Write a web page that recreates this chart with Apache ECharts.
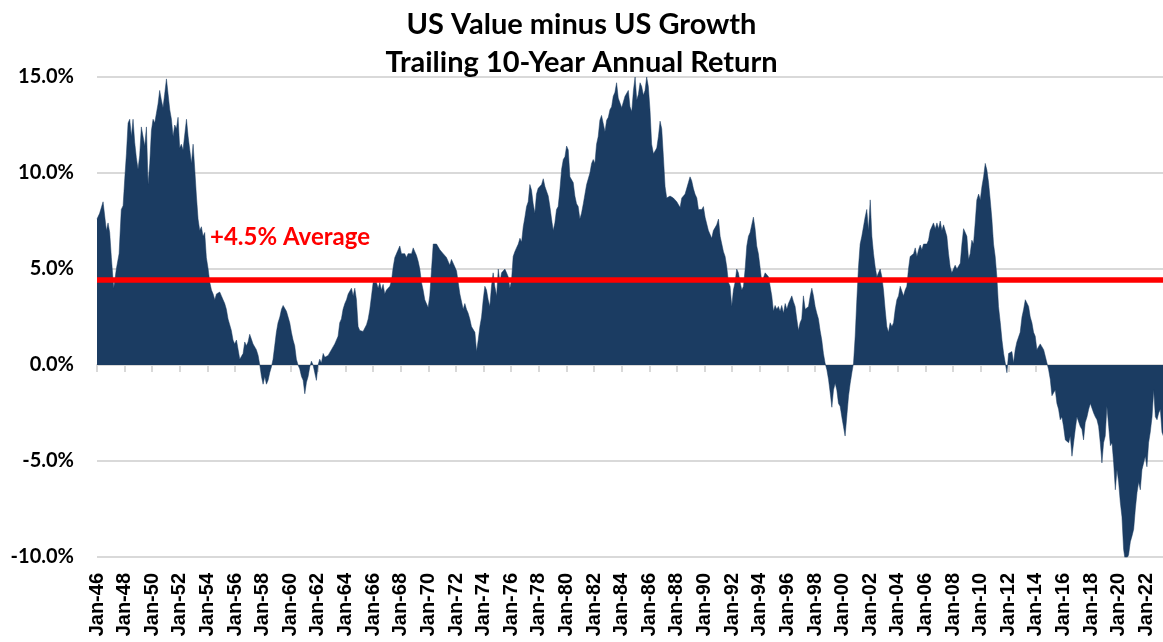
<!DOCTYPE html>
<html>
<head>
<meta charset="utf-8">
<script src="https://cdn.jsdelivr.net/npm/echarts@6/dist/echarts.min.js"></script>
<style>
html,body{margin:0;padding:0;background:#fff;}
#chart{width:1163px;height:642px;}
</style>
</head>
<body>
<div id="chart"></div>
<script>
// Sample dates (decimal years)
const sampleYears = [
1946.00,1946.19,1946.44,1946.68,1946.80,1946.92,1947.04,1947.21,1947.40,1947.60,1947.76,1947.89,
1948.01,1948.13,1948.25,1948.37,1948.49,1948.61,1948.73,1948.85,1948.97,1949.09,1949.21,1949.33,
1949.46,1949.58,1949.70,1949.82,1949.94,1950.06,1950.18,1950.30,1950.42,1950.54,1950.66,1950.78,
1950.90,1951.03,1951.15,1951.27,1951.39,1951.51,1951.63,1951.75,1951.87,1951.99,1952.11,1952.23,
1952.48,1952.60,1952.72,1952.84,1952.96,1953.08,1953.20,1953.32,1953.44,1953.56,1953.68,1953.80,
1953.92,1954.05,1954.17,1954.29,1954.41,1954.53,1954.65,1954.89,1955.01,1955.13,1955.25,
1955.37,1955.49,1955.61,1955.73,1955.85,1955.97,1956.10,1956.22,1956.34,1956.46,1956.58,1956.70,
1956.82,1956.94,1957.06,1957.18,1957.30,1957.42,1957.54,1957.67,1957.79,1957.91,1958.03,1958.15,
1958.27,1958.39,1958.51,1958.63,1958.75,1958.87,1958.99,1959.11,1959.24,1959.36,1959.48,1959.60,
1959.72,1959.84,1959.96,1960.08,1960.20,1960.32,1960.44,1960.56,1960.68,1960.81,1960.93,1961.05,
1961.17,1961.29,1961.41,1961.53,1961.65,1961.77,1961.89,1962.01,1962.13,1962.25,1962.38,1962.50,
1962.62,1962.74,1962.98,1963.22,1963.34,1963.46,1963.58,1963.70,1963.82,1963.95,1964.07,1964.19,
1964.31,1964.43,1964.55,
1964.67,1964.79,1964.91,1965.03,1965.15,1965.27,1965.39,1965.52,1965.64,1965.76,1965.88,1966.00,
1966.12,1966.24,1966.36,1966.48,1966.60,1966.72,1966.84,1966.96,1967.09,1967.21,1967.33,1967.45,
1967.57,1967.69,1967.81,1967.93,1968.05,1968.17,1968.29,1968.41,1968.53,1968.66,1968.78,1968.90,
1969.02,1969.14,1969.26,1969.38,1969.50,1969.62,1969.74,1969.86,1969.98,1970.10,1970.23,1970.35,
1970.47,1970.59,1970.71,1970.83,1970.95,1971.07,1971.19,1971.31,1971.43,1971.55,1971.67,1971.80,
1971.92,1972.04,1972.16,1972.28,1972.40,1972.52,1972.64,1972.76,1972.88,1973.00,1973.12,1973.24,
1973.37,1973.49,1973.61,1973.73,1973.85,1973.97,
1974.09,1974.21,1974.33,1974.45,1974.57,1974.69,1974.81,1974.94,1975.06,1975.18,1975.30,1975.42,
1975.54,1975.66,1975.78,1975.90,1976.02,1976.14,1976.26,1976.38,1976.51,1976.63,1976.75,1976.87,
1976.99,1977.11,1977.23,1977.35,1977.47,1977.59,1977.71,1977.83,1977.95,1978.08,1978.20,1978.32,
1978.44,1978.56,1978.68,1978.80,1978.92,1979.04,1979.16,1979.28,1979.40,1979.52,1979.65,1979.77,
1979.89,1980.01,1980.13,1980.25,1980.37,1980.49,1980.61,1980.73,1980.85,1980.97,1981.09,1981.22,
1981.34,1981.46,1981.58,1981.70,1981.82,1981.94,1982.06,1982.18,1982.30,1982.42,1982.54,1982.66,
1982.79,1982.91,1983.03,1983.15,1983.27,1983.39,1983.51,1983.63,1983.75,
1983.88,1984.00,1984.12,1984.24,1984.36,1984.48,1984.60,1984.73,1984.85,1984.97,1985.09,1985.21,
1985.33,1985.45,1985.57,1985.69,1985.81,1985.93,1986.05,1986.17,1986.30,1986.42,1986.54,1986.66,
1986.78,1986.90,1987.02,1987.14,1987.26,1987.38,1987.50,1987.62,1987.74,1987.87,1987.99,1988.11,
1988.23,1988.35,1988.47,1988.59,1988.71,1988.83,1988.95,1989.07,1989.19,1989.31,1989.44,1989.56,
1989.68,1989.80,1989.92,1990.04,1990.16,1990.28,1990.40,1990.52,1990.64,1990.76,1990.88,1991.01,
1991.13,1991.25,1991.37,1991.49,1991.61,1991.73,1991.85,1991.97,1992.09,1992.21,1992.33,1992.45,
1992.58,1992.70,1992.82,1992.94,1993.06,1993.18,
1993.30,1993.42,1993.54,1993.66,1993.78,1993.90,1994.02,1994.15,1994.27,1994.39,1994.51,1994.63,
1994.75,1994.87,1994.99,1995.11,1995.23,1995.35,1995.47,1995.59,1995.72,1995.84,1995.96,1996.08,
1996.20,1996.32,1996.44,1996.56,1996.68,1996.80,1996.92,1997.04,1997.16,1997.29,1997.41,1997.53,
1997.65,1997.77,1997.89,1998.01,1998.13,1998.25,1998.37,1998.49,1998.61,1998.73,1998.86,1998.98,
1999.10,1999.22,1999.34,1999.46,1999.58,1999.70,1999.82,1999.94,2000.06,2000.18,2000.30,2000.43,
2000.55,2000.67,2000.79,2000.91,2001.03,2001.15,2001.27,2001.39,2001.51,2001.63,2001.75,2001.87,
2002.00,2002.12,2002.24,2002.36,2002.48,2002.60,
2002.72,2002.84,2002.96,2003.08,2003.20,2003.32,2003.44,2003.57,2003.69,2003.81,2003.93,2004.05,
2004.17,2004.29,2004.41,2004.53,2004.65,2004.77,2004.89,2005.01,2005.14,2005.26,2005.38,2005.50,
2005.62,2005.74,2005.86,2005.98,2006.10,2006.22,2006.34,2006.46,2006.58,2006.71,2006.83,2006.95,
2007.07,2007.19,2007.31,2007.43,2007.55,2007.67,2007.79,2007.91,2008.03,2008.15,2008.28,2008.40,
2008.52,2008.64,2008.76,2008.88,2009.00,2009.12,2009.24,2009.36,2009.48,2009.60,2009.72,2009.85,
2009.97,2010.09,2010.21,2010.33,2010.45,2010.57,2010.69,2010.81,2010.93,2011.05,2011.17,2011.29,
2011.42,2011.54,2011.66,2011.78,2011.90,2012.02,
2012.14,2012.26,2012.38,2012.50,2012.62,2012.74,2012.86,2012.99,2013.11,2013.23,2013.35,2013.47,
2013.59,2013.71,2013.83,2013.95,2014.07,2014.19,2014.31,2014.43,2014.56,2014.68,2014.80,2014.92,
2015.04,2015.16,2015.28,2015.40,2015.52,2015.64,2015.76,2015.88,2016.00,2016.13,2016.25,2016.37,
2016.49,2016.61,2016.73,2016.85,2016.97,2017.09,2017.21,2017.33,2017.45,2017.57,2017.70,2017.82,
2017.94,2018.06,2018.18,2018.30,2018.42,2018.54,2018.66,2018.78,2018.90,2019.02,2019.14,2019.27,
2019.39,2019.51,2019.63,2019.75,2019.87,2019.99,2020.11,2020.23,2020.35,2020.47,2020.59,2020.71,
2020.84,2020.96,2021.08,2021.20,2021.32,2021.44,2021.56,2021.68,2021.80,2021.92,2022.04,2022.16,
2022.28,2022.41,2022.53,2022.65,2022.77,2022.89,2023.01,2023.13,2023.23
];

// US Value minus US Growth, trailing 10-year annual return (%)
const spreadValues = [
7.6,7.9,8.5,7.0,7.4,6.9,5.6,4.0,5.0,5.8,8.1,8.3,
9.7,11.0,12.6,12.8,11.9,12.8,11.6,10.8,10.2,10.9,12.4,12.3,
11.4,12.4,9.4,10.5,12.2,12.8,12.6,13.1,13.6,14.3,13.8,13.4,
14.1,14.9,14.1,13.3,12.8,11.9,12.5,12.3,12.9,11.3,11.5,11.2,
12.8,11.9,11.2,10.5,11.5,10.2,8.8,7.6,7.0,7.2,6.7,6.9,
5.6,5.0,4.3,3.9,3.7,3.4,3.7,3.8,3.6,3.7,3.2,
2.9,2.4,2.5,1.8,1.3,1.1,1.3,1.4,0.3,0.4,0.6,1.2,
1.0,1.2,1.6,1.5,1.1,1.1,0.8,0.5,0.0,-0.6,-1.0,-0.6,
-1.0,-0.8,-0.4,-0.1,0.3,1.0,1.7,2.2,2.5,2.9,3.1,3.0,
2.8,2.5,2.2,1.7,1.3,1.0,0.3,0.0,-0.2,-0.6,-0.8,-1.5,
-0.9,-0.6,-0.1,0.2,0.0,-0.4,-0.8,0.0,0.3,0.1,0.6,0.4,
0.5,0.5,0.8,1.1,1.1,1.5,2.2,2.4,2.9,3.2,3.4,3.7,
3.8,4.0,3.6,
4.0,3.4,2.0,1.8,1.7,1.75,1.8,2.1,2.4,2.9,3.6,4.3,
4.2,4.3,4.0,4.3,3.9,4.2,3.7,3.9,4.0,4.1,4.4,5.1,
5.6,5.7,6.0,6.2,5.8,5.7,5.8,5.6,5.8,5.9,5.8,6.1,
6.2,5.7,5.4,5.0,4.3,3.9,3.4,3.5,3.0,3.6,5.0,6.3,
6.4,6.3,6.3,6.0,6.1,5.8,5.7,5.6,5.5,5.2,5.5,5.4,
5.1,4.9,4.3,3.7,3.6,2.9,3.2,2.9,2.7,2.4,2.0,1.9,
1.7,0.7,1.3,2.0,2.5,3.4,
4.1,3.9,3.4,3.05,4.1,4.8,4.1,3.6,5.0,4.3,4.8,4.7,
5.0,4.8,4.6,4.0,4.4,5.65,5.9,6.1,6.3,6.6,6.4,7.2,
7.7,8.25,8.5,9.4,9.1,8.4,7.9,8.9,9.2,9.1,9.4,9.7,
9.3,9.4,8.8,8.25,7.6,7.0,7.4,8.1,8.25,9.1,10.2,10.7,
10.85,11.4,11.2,9.8,9.7,9.5,8.8,8.4,8.25,7.6,7.9,8.4,
8.5,9.4,9.5,10.0,10.5,10.7,10.5,11.5,11.9,12.75,13.0,12.9,
12.15,12.75,12.9,13.3,13.45,14.0,14.2,14.7,13.9,
14.0,13.4,13.7,14.0,13.9,14.3,13.45,13.2,14.3,15.0,13.8,14.1,
14.7,14.5,14.05,14.3,15.0,14.5,13.3,11.5,11.0,11.1,11.3,11.9,
12.7,12.3,10.85,9.3,8.7,8.6,8.8,8.9,8.7,8.8,8.5,8.4,
8.2,8.7,8.8,8.9,8.9,9.5,9.8,9.6,9.2,8.9,8.7,8.1,
8.0,8.1,8.25,7.7,7.6,7.0,6.9,6.6,7.0,7.1,7.3,7.6,
6.7,6.3,5.9,5.65,5.1,4.3,4.1,3.05,3.9,4.3,5.0,4.8,
4.3,3.9,4.1,5.0,6.2,6.7,
6.9,7.0,7.7,7.1,6.2,5.8,5.1,4.3,4.35,4.8,4.9,4.6,
4.1,3.6,2.8,3.1,2.9,3.05,2.8,3.1,2.7,3.2,2.9,3.2,
3.4,3.6,3.3,3.05,2.4,1.8,2.2,2.4,3.6,2.9,3.0,3.05,
3.6,4.0,3.6,3.05,2.7,2.4,1.8,1.3,0.6,0.1,-0.25,-0.75,
-1.45,-2.2,-1.3,-0.95,-1.3,-2.0,-2.15,-2.7,-3.2,-3.7,-2.7,-1.6,
-0.95,-0.4,0.1,1.5,3.4,5.1,6.3,6.7,7.2,7.7,8.1,7.0,
8.6,6.7,5.8,5.1,4.6,4.8,
5.0,4.6,3.9,2.9,2.0,1.7,2.2,2.0,2.2,2.9,3.4,3.6,
4.1,4.1,3.6,3.9,4.1,5.0,5.65,5.7,5.8,6.1,5.65,6.0,
6.25,6.0,6.3,6.4,6.3,6.5,7.0,7.2,7.4,7.1,7.4,7.1,
7.5,7.0,7.3,7.2,6.7,5.8,5.1,4.8,4.7,5.2,5.0,5.0,
5.3,6.3,7.1,7.2,6.7,5.5,5.8,6.5,6.3,7.4,8.6,8.9,
8.6,9.3,9.8,10.5,10.15,9.5,8.6,7.6,6.3,5.65,4.6,3.05,
2.2,1.3,0.6,0.1,-0.4,0.6,
0.6,0.7,0.1,0.8,1.2,1.1,1.7,2.5,2.9,3.4,3.5,3.05,
2.5,2.2,1.7,1.5,0.8,0.8,1.1,1.05,0.8,0.45,0.1,-0.25,
-0.75,-1.6,-1.45,-1.3,-2.0,-2.3,-2.85,-2.7,-3.2,-3.9,-3.9,-4.05,
-3.7,-4.75,-4.05,-3.35,-2.7,-2.7,-3.2,-3.35,-3.9,-3.0,-2.7,-2.3,
-2.0,-2.0,-2.5,-2.7,-2.85,-3.2,-4.05,-5.1,-4.05,-3.7,-2.15,-3.2,
-4.2,-4.05,-5.1,-6.5,-5.45,-6.1,-7.15,-7.9,-9.6,-10.2,-10.1,-9.9,
-9.2,-8.9,-8.55,-7.5,-6.65,-6.1,-6.5,-5.45,-5.45,-4.75,-5.3,-4.05,
-3.5,-2.7,-1.3,-2.7,-2.85,-2.5,-2.3,-3.5,-3.7
];

const averageValue = 4.45;
const averageLabel = '+4.5% Average';
const titleLines = ['US Value minus US Growth', 'Trailing 10-Year Annual Return'];
const yTicks = [-10, -5, 0, 5, 10, 15];

const seriesData = sampleYears.map((y, i) => [y, spreadValues[i]]);

const chart = echarts.init(document.getElementById('chart'), null, {renderer: 'canvas'});
const gridColor = '#d9d9d9';
const xFmt = v => 'Jan-' + String(Math.round(v) % 100).padStart(2, '0');

chart.setOption({
  animation: false,
  backgroundColor: '#ffffff',
  title: {
    text: titleLines.join('\n'),
    left: 'center',
    top: 1,
    textStyle: {fontFamily: 'Lato', fontWeight: 'bold', fontSize: 29, lineHeight: 38, color: '#000'}
  },
  grid: {left: 97, right: -11, top: 77, bottom: 85, containLabel: false, outerBoundsMode: 'none'},
  xAxis: [
    {
      type: 'value', min: 1946, max: 2024, interval: 2, position: 'bottom',
      axisLine: {show: false, onZero: false},
      axisTick: {show: false},
      splitLine: {show: false},
      axisLabel: {
        rotate: 90, margin: 16, fontFamily: 'Liberation Sans', fontWeight: 'bold',
        fontSize: 20, color: '#000', formatter: xFmt, showMaxLabel: false
      }
    },
    {
      type: 'value', min: 1946, max: 2024, interval: 2, position: 'top',
      axisLine: {show: true, onZero: true, lineStyle: {color: gridColor, width: 2}},
      axisTick: {show: true, inside: true, length: 7, lineStyle: {color: gridColor, width: 2}},
      axisLabel: {show: false},
      splitLine: {show: false}
    }
  ],
  yAxis: {
    type: 'value', min: yTicks[0], max: yTicks[yTicks.length - 1], interval: 5,
    axisLine: {show: false}, axisTick: {show: false},
    splitLine: {show: true, lineStyle: {color: gridColor, width: 2}},
    axisLabel: {
      margin: 23, fontFamily: 'Lato', fontWeight: 'bold', fontSize: 20, color: '#000',
      formatter: v => v.toFixed(1) + '%'
    }
  },
  series: [{
    type: 'line',
    xAxisIndex: 0,
    data: seriesData,
    showSymbol: false,
    symbol: 'none',
    sampling: null,
    clip: true,
    lineStyle: {width: 0.5, color: '#1b3c62'},
    itemStyle: {color: '#1b3c62'},
    areaStyle: {color: '#1b3c62', opacity: 1},
    markLine: {
      silent: true,
      symbol: ['none', 'none'],
      label: {show: false},
      lineStyle: {color: '#ff0000', width: 5.5, type: 'solid'},
      data: [{yAxis: averageValue}]
    },
    z: 3
  }],
  graphic: [{
    type: 'text',
    left: 210,
    top: 225,
    z: 10,
    style: {text: averageLabel, fill: '#ff0000', font: 'bold 24px Lato'}
  }]
});
</script>
</body>
</html>
